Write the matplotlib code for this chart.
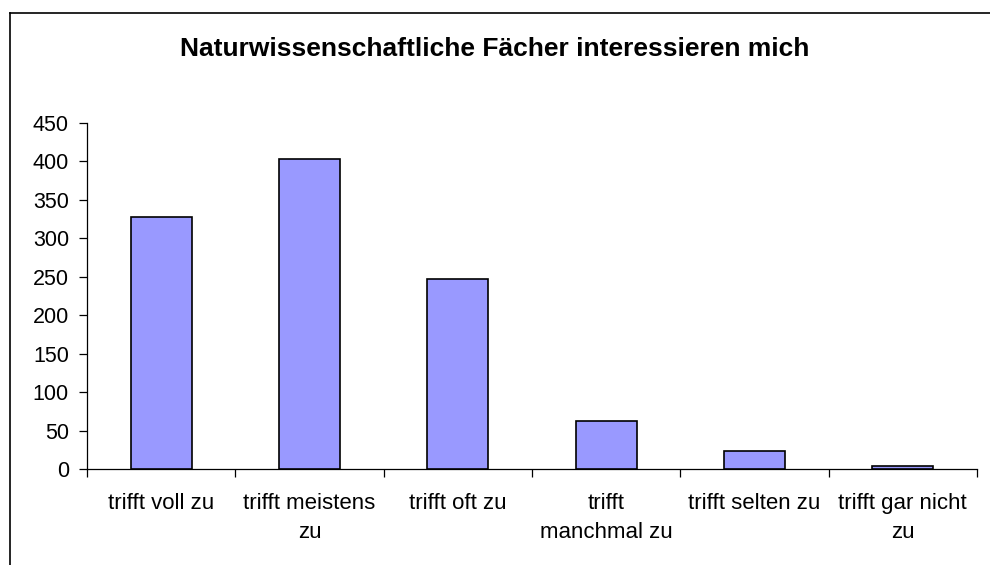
import matplotlib
matplotlib.use("Agg")
import matplotlib.pyplot as plt
from matplotlib.lines import Line2D

categories = ["trifft voll zu", "trifft meistens\nzu", "trifft oft zu",
              "trifft\nmanchmal zu", "trifft selten zu", "trifft gar nicht\nzu"]
values = [328, 403, 247, 62, 23, 4]
yticks = [0, 50, 100, 150, 200, 250, 300, 350, 400, 450]
title = "Naturwissenschaftliche Fächer interessieren mich"

plt.rcParams['font.family'] = ['Liberation Sans', 'DejaVu Sans']

fig = plt.figure(figsize=(9.9, 5.65), dpi=100)
ax = fig.add_axes([87/990, 1-469/565, (977-87)/990, (469-123)/565])

x = list(range(len(categories)))
ax.bar(x, values, width=0.41, color="#9999FF", edgecolor="black", linewidth=1.2, zorder=3)

ax.set_xlim(-0.5, len(categories)-0.5)
ax.set_ylim(0, 450)
ax.set_yticks(yticks)
ax.set_yticklabels([str(v) for v in yticks], fontsize=15.5)

ax.set_xticks(x)
ax.set_xticklabels(categories, fontsize=16, linespacing=1.5, va="top")
ax.tick_params(axis="x", which="major", length=0, pad=17.5)
ax.set_xticks([i - 0.5 for i in range(len(categories)+1)], minor=True)
ax.tick_params(axis="x", which="minor", length=6, width=0.9, direction="out", color="black")
ax.tick_params(axis="y", length=6, width=0.9, direction="out", pad=7, color="black")

for s in ["top", "right"]:
    ax.spines[s].set_visible(False)
for s in ["left", "bottom"]:
    ax.spines[s].set_linewidth(0.9)
    ax.spines[s].set_color("black")

fig.text(0.5, 1-49/565, title, ha="center", va="center", fontsize=19, fontweight="bold")

# outer chart frame (left and top visible)
fig.add_artist(Line2D([9.5/990, 9.5/990], [0, 1-13/565], transform=fig.transFigure, color="black", linewidth=1.2))
fig.add_artist(Line2D([9.5/990, 1], [1-13/565, 1-13/565], transform=fig.transFigure, color="black", linewidth=1.2))

fig.savefig("out.png", dpi=100)
